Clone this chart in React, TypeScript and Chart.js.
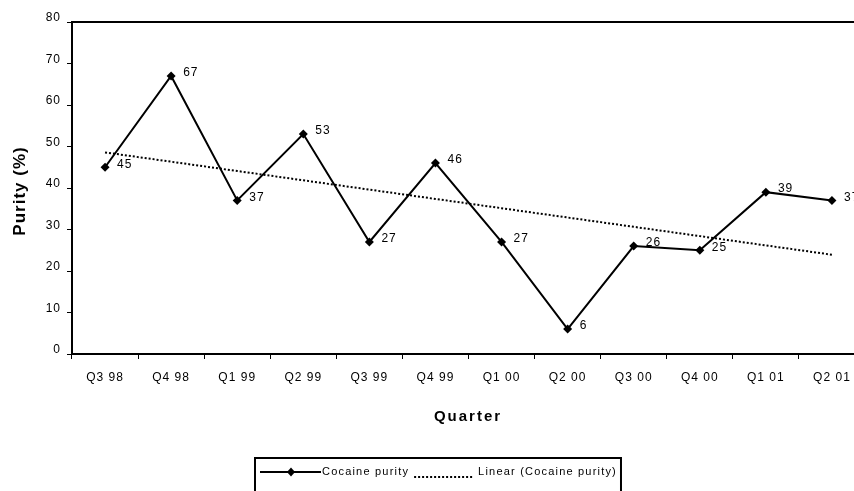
import { useEffect, useRef } from 'react';
import { Chart, registerables } from 'chart.js';

Chart.register(...registerables);

// Quarterly cocaine purity series
const quarters = ['Q3 98', 'Q4 98', 'Q1 99', 'Q2 99', 'Q3 99', 'Q4 99', 'Q1 00', 'Q2 00', 'Q3 00', 'Q4 00', 'Q1 01', 'Q2 01'];
const purity = [45, 67, 37, 53, 27, 46, 27, 6, 26, 25, 39, 37];
const yTicks = [0, 10, 20, 30, 40, 50, 60, 70, 80];

const seriesLabel = 'Cocaine purity';
const trendLabel = 'Linear (Cocaine purity)';
const xTitle = 'Quarter';
const yTitle = 'Purity (%)';

const FONT = '"Liberation Sans", Arial, Helvetica, sans-serif';

// Least-squares linear trend over the category index
function linearTrend(values: number[]): number[] {
  const n = values.length;
  const mx = (n - 1) / 2;
  const my = values.reduce((s, v) => s + v, 0) / n;
  let sxy = 0;
  let sxx = 0;
  values.forEach((v, i) => {
    sxy += (i - mx) * (v - my);
    sxx += (i - mx) * (i - mx);
  });
  const slope = sxy / sxx;
  return values.map((_, i) => my + slope * (i - mx));
}

const trend = linearTrend(purity);

const decorPlugin = {
  id: 'decor',
  beforeDraw(chart: any) {
    const ctx = chart.ctx;
    ctx.fillStyle = '#fff';
    ctx.fillRect(0, 0, chart.width, chart.height);
    ctx.letterSpacing = '1px';
  },
  afterDraw(chart: any) {
    const ctx = chart.ctx;
    const area = chart.chartArea;

    // plot area frame
    ctx.save();
    ctx.strokeStyle = '#000';
    ctx.lineWidth = 2;
    ctx.strokeRect(area.left, area.top, area.right - area.left, area.bottom - area.top);
    ctx.restore();

    // value labels beside each point
    const meta = chart.getDatasetMeta(0);
    ctx.save();
    ctx.letterSpacing = '1px';
    ctx.font = `12px ${FONT}`;
    ctx.fillStyle = '#000';
    ctx.textAlign = 'left';
    ctx.textBaseline = 'middle';
    meta.data.forEach((pt: any, i: number) => {
      ctx.fillText(String(purity[i]), pt.x + 12, pt.y - 3);
    });
    ctx.restore();

    // axis titles
    ctx.save();
    ctx.fillStyle = '#000';
    ctx.font = `bold 15px ${FONT}`;
    ctx.letterSpacing = '2px';
    ctx.textAlign = 'center';
    ctx.textBaseline = 'middle';
    ctx.fillText(xTitle, 468, 417);
    ctx.translate(20, 191);
    ctx.rotate(-Math.PI / 2);
    ctx.font = `bold 17px ${FONT}`;
    ctx.letterSpacing = '1px';
    ctx.fillText(yTitle, 0, 0);
    ctx.restore();

    // legend
    ctx.save();
    ctx.font = `11px ${FONT}`;
    ctx.letterSpacing = '1.2px';
    ctx.fillStyle = '#000';
    ctx.strokeStyle = '#000';
    ctx.textBaseline = 'middle';
    ctx.textAlign = 'left';
    const boxLeft = 255;
    const boxTop = 458;
    const rowY = 472;
    // series sample: line with diamond
    ctx.lineWidth = 2;
    ctx.beginPath();
    ctx.moveTo(260, rowY);
    ctx.lineTo(321, rowY);
    ctx.stroke();
    ctx.beginPath();
    ctx.moveTo(291, rowY - 4.5);
    ctx.lineTo(295, rowY);
    ctx.lineTo(291, rowY + 4.5);
    ctx.lineTo(287, rowY);
    ctx.closePath();
    ctx.fill();
    let x = 322;
    ctx.fillText(seriesLabel, x, rowY);
    x += ctx.measureText(seriesLabel).width + 5;
    // trend sample: dotted line
    ctx.setLineDash([2, 2]);
    ctx.beginPath();
    ctx.moveTo(x, rowY + 5);
    ctx.lineTo(x + 60, rowY + 5);
    ctx.stroke();
    ctx.setLineDash([]);
    x += 64;
    ctx.fillText(trendLabel, x, rowY);
    x += ctx.measureText(trendLabel).width + 4;
    ctx.lineWidth = 2;
    ctx.strokeRect(boxLeft, boxTop, x - boxLeft, 60);
    ctx.restore();
  },
};

export default function App() {
  const canvasRef = useRef<HTMLCanvasElement | null>(null);

  useEffect(() => {
    const canvas = canvasRef.current;
    if (!canvas) return;
    const chart = new Chart(canvas, {
      type: 'line',
      data: {
        labels: quarters,
        datasets: [
          {
            label: seriesLabel,
            data: purity,
            borderColor: '#000',
            backgroundColor: '#000',
            borderWidth: 2,
            pointStyle: 'rectRot',
            pointRadius: 4.5,
            pointBorderWidth: 0,
            tension: 0,
            order: 1,
          },
          {
            label: trendLabel,
            data: trend,
            borderColor: '#000',
            borderWidth: 2,
            borderDash: [2, 2],
            borderCapStyle: 'butt',
            pointRadius: 0,
            tension: 0,
            order: 2,
          },
        ],
      },
      options: {
        responsive: false,
        animation: false,
        devicePixelRatio: 1,
        events: [],
        layout: { padding: { left: 0, top: 22, right: 15, bottom: 0 } },
        plugins: {
          legend: { display: false },
          tooltip: { enabled: false },
        },
        scales: {
          x: {
            type: 'category',
            offset: true,
            afterFit: (s: any) => {
              s.height = 137;
            },
            grid: {
              display: true,
              drawOnChartArea: false,
              drawTicks: true,
              tickLength: 5,
              offset: true,
              color: '#000',
              lineWidth: 1,
            },
            border: { display: true, color: '#000', width: 2 },
            ticks: {
              color: '#000',
              font: { family: FONT, size: 12 },
              padding: 11,
              maxRotation: 0,
              autoSkip: false,
            },
          },
          y: {
            min: 0,
            max: 80,
            afterFit: (s: any) => {
              s.width = 72;
            },
            afterBuildTicks: (s: any) => {
              s.ticks = yTicks.map((v) => ({ value: v }));
            },
            grid: {
              display: true,
              drawOnChartArea: false,
              drawTicks: true,
              tickLength: 5,
              color: '#000',
              lineWidth: 1,
            },
            border: { display: true, color: '#000', width: 2 },
            ticks: {
              color: '#000',
              font: { family: FONT, size: 12 },
              padding: 6,
              labelOffset: -4,
            },
          },
        },
      },
      plugins: [decorPlugin],
    });
    return () => chart.destroy();
  }, []);

  return (
    <div
      style={{
        position: 'fixed',
        left: 0,
        top: 0,
        width: 854,
        height: 491,
        overflow: 'hidden',
        background: '#fff',
      }}
    >
      <canvas ref={canvasRef} width={880} height={491} style={{ display: 'block', width: 880, height: 491 }} />
    </div>
  );
}
